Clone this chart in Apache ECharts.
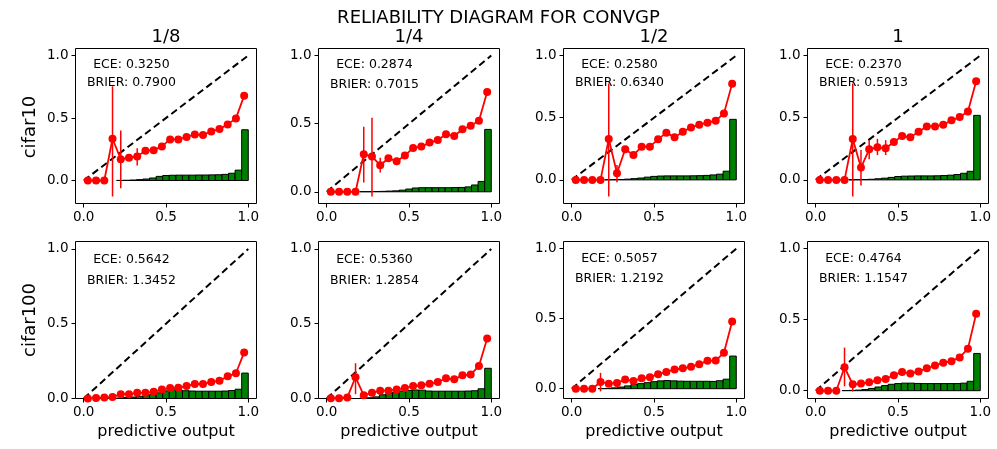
<!DOCTYPE html>
<html><head><meta charset="utf-8">
<script src="https://cdn.jsdelivr.net/npm/echarts@6/dist/echarts.min.js"></script>
<style>html,body{margin:0;padding:0;background:#fff}#c{width:997px;height:449px}</style>
</head><body><div id="c"></div>
<script>
// ---------- DATA ----------
const columns = ['1/8', '1/4', '1/2', '1'];
const rows = ['cifar10', 'cifar100'];
const centers = [0.025,0.075,0.125,0.175,0.225,0.275,0.325,0.375,0.425,0.475,0.525,0.575,0.625,0.675,0.725,0.775,0.825,0.875,0.925,0.975];
const histEdges = [0,0.04,0.08,0.12,0.16,0.2,0.24,0.28,0.32,0.36,0.4,0.44,0.48,0.52,0.56,0.6,0.64,0.68,0.72,0.76,0.8,0.84,0.88,0.92,0.96,1.0];

// cifar10
const acc_c10_8 = [0,0,0,0.334,0.171,0.182,0.193,0.238,0.243,0.273,0.329,0.329,0.348,0.369,0.364,0.393,0.412,0.449,0.497,0.679];
const err_c10_8 = [[0.175,-0.128,0.754],[0.225,-0.061,0.401],[0.325,0.120,0.259]];
const hist_c10_8 = [0,0,0,0,0,0.001,0.002,0.004,0.007,0.012,0.02,0.033,0.04,0.042,0.043,0.043,0.043,0.044,0.044,0.045,0.046,0.049,0.058,0.083,0.406];

const acc_c10_4 = [0,0,0,0,0.276,0.259,0.195,0.246,0.224,0.266,0.322,0.332,0.361,0.380,0.422,0.410,0.459,0.485,0.522,0.732];
const err_c10_4 = [[0.225,0.068,0.478],[0.275,-0.034,0.544],[0.325,0.141,0.249]];
const hist_c10_4 = [0,0,0,0,0,0.001,0.001,0.002,0.003,0.005,0.007,0.012,0.02,0.028,0.03,0.03,0.03,0.03,0.03,0.031,0.032,0.036,0.05,0.076,0.458];

const acc_c10_2 = [0,0,0,0,0.329,0.053,0.246,0.200,0.267,0.267,0.326,0.380,0.342,0.388,0.422,0.444,0.460,0.476,0.535,0.773];
const err_c10_2 = [[0.225,-0.134,0.775],[0.275,-0.02,0.12]];
const hist_c10_2 = [0,0,0,0,0,0.001,0.002,0.003,0.006,0.01,0.015,0.022,0.028,0.031,0.032,0.032,0.032,0.032,0.033,0.034,0.036,0.04,0.046,0.07,0.487];

const acc_c10_1 = [0,0,0,0,0.329,0.099,0.246,0.262,0.254,0.305,0.353,0.342,0.388,0.430,0.430,0.444,0.479,0.505,0.551,0.794];
const err_c10_1 = [[0.225,-0.134,0.775],[0.275,-0.045,0.24],[0.325,0.166,0.32],[0.375,0.2,0.33],[0.425,0.2,0.32]];
const hist_c10_1 = [0,0,0,0,0,0.001,0.002,0.003,0.005,0.009,0.014,0.02,0.027,0.03,0.031,0.032,0.032,0.032,0.033,0.035,0.038,0.043,0.053,0.069,0.519];

// cifar100
const acc_c100_8 = [0,0.004,0.006,0.01,0.029,0.029,0.038,0.038,0.045,0.061,0.070,0.072,0.083,0.097,0.097,0.110,0.119,0.148,0.169,0.308];
const err_c100_8 = [];
const hist_c100_8 = [0,0,0,0,0.001,0.003,0.006,0.01,0.015,0.02,0.027,0.038,0.051,0.058,0.056,0.052,0.05,0.049,0.049,0.049,0.049,0.05,0.053,0.062,0.17];

const acc_c100_4 = [0.002,0.002,0.007,0.142,0.022,0.038,0.052,0.052,0.061,0.070,0.083,0.088,0.099,0.110,0.135,0.128,0.155,0.160,0.218,0.402];
const err_c100_4 = [[0.175,0.029,0.236]];
const hist_c100_4 = [0,0,0,0,0,0.002,0.005,0.011,0.025,0.034,0.043,0.05,0.054,0.057,0.056,0.05,0.049,0.049,0.049,0.049,0.049,0.05,0.052,0.065,0.202];

const acc_c100_2 = [0,0,0,0.048,0.036,0.041,0.065,0.055,0.074,0.082,0.103,0.120,0.137,0.146,0.156,0.175,0.199,0.201,0.257,0.480];
const err_c100_2 = [[0.175,-0.019,0.113]];
const hist_c100_2 = [0,0,0,0,0.001,0.002,0.006,0.012,0.02,0.03,0.036,0.043,0.05,0.056,0.058,0.056,0.054,0.053,0.053,0.053,0.053,0.052,0.057,0.068,0.233];

const acc_c100_1 = [0,0,0,0.165,0.045,0.050,0.059,0.073,0.083,0.109,0.132,0.121,0.135,0.158,0.177,0.196,0.208,0.234,0.296,0.541];
const err_c100_1 = [[0.175,0.031,0.303],[0.225,-0.005,0.059]];
const hist_c100_1 = [0,0,0,0,0.001,0.002,0.004,0.008,0.016,0.026,0.036,0.045,0.05,0.053,0.053,0.051,0.05,0.05,0.05,0.05,0.05,0.05,0.053,0.066,0.262];

const eceVals = ['0.3250','0.2874','0.2580','0.2370','0.5642','0.5360','0.5057','0.4764'];
const brierVals = ['0.7900','0.7015','0.6340','0.5913','1.3452','1.2854','1.2192','1.1547'];
const xTicks = [0, 0.5, 1.0];
const yTicks = [0, 0.5, 1.0];

// ---------- LAYOUT ----------
const panelData = [
  [acc_c10_8, err_c10_8, hist_c10_8], [acc_c10_4, err_c10_4, hist_c10_4],
  [acc_c10_2, err_c10_2, hist_c10_2], [acc_c10_1, err_c10_1, hist_c10_1],
  [acc_c100_8, err_c100_8, hist_c100_8], [acc_c100_4, err_c100_4, hist_c100_4],
  [acc_c100_2, err_c100_2, hist_c100_2], [acc_c100_1, err_c100_1, hist_c100_1]
];
const yLims = [[-0.184,1.056],[-0.086,1.052],[-0.19,1.057],[-0.19,1.057],[0,1.05],[0,1.05],[-0.07,1.051],[-0.055,1.05]];
const gridLefts = [75.5, 318.5, 563.5, 807.5];
const gridW = 181;
const rowTops = [48.5, 241.5];
const rowHs = [155, 157];
const FONT = 'DejaVu Sans';

const grids = [], xAxes = [], yAxes = [], series = [];
for (let i = 0; i < 8; i++) {
  const r = Math.floor(i / 4), c = i % 4;
  grids.push({left: gridLefts[c], top: rowTops[r], width: gridW, height: rowHs[r],
    show: true, borderColor: '#000', borderWidth: 1, backgroundColor: 'transparent', containLabel: false});
  xAxes.push({type: 'value', gridIndex: i, min: -0.05, max: 1.05, position: 'bottom',
    axisLine: {show: false, onZero: false}, splitLine: {show: false},
    axisTick: {show: true, inside: false, length: 4, customValues: xTicks, lineStyle: {color: '#000', width: 1}},
    axisLabel: {show: true, customValues: xTicks, margin: 7, color: '#000', fontSize: 13.5, fontFamily: FONT,
      formatter: v => v.toFixed(1)}});
  yAxes.push({type: 'value', gridIndex: i, min: yLims[i][0], max: yLims[i][1], position: 'left',
    axisLine: {show: false, onZero: false}, splitLine: {show: false},
    axisTick: {show: true, inside: false, length: 4, customValues: yTicks, lineStyle: {color: '#000', width: 1}},
    axisLabel: {show: true, customValues: yTicks, margin: 7, color: '#000', fontSize: 13.5, fontFamily: FONT,
      formatter: v => v.toFixed(1)}});

  const [acc, err, hist] = panelData[i];
  const histItems = [];
  hist.forEach((h, k) => { if (h > 0) histItems.push([histEdges[k], histEdges[k + 1], h]); });
  series.push({type: 'custom', xAxisIndex: i, yAxisIndex: i, z: 1, silent: true,
    encode: {x: [0, 1], y: 2},
    renderItem: (params, api) => {
      const p0 = api.coord([api.value(0), 0]);
      const p1 = api.coord([api.value(1), api.value(2)]);
      return {type: 'rect', shape: {x: p0[0], y: p1[1], width: p1[0] - p0[0], height: p0[1] - p1[1]},
        style: {fill: '#008000', stroke: '#000', lineWidth: 1}};
    },
    data: histItems});
  series.push({type: 'line', xAxisIndex: i, yAxisIndex: i, z: 2, silent: true, symbol: 'none',
    lineStyle: {color: '#000', width: 2, type: [7, 4]}, data: [[0, 0], [1, 1]]});
  series.push({type: 'custom', xAxisIndex: i, yAxisIndex: i, z: 3, silent: true,
    encode: {x: 0, y: [1, 2]},
    renderItem: (params, api) => {
      const p0 = api.coord([api.value(0), api.value(1)]);
      const p1 = api.coord([api.value(0), api.value(2)]);
      return {type: 'line', shape: {x1: p0[0], y1: p0[1], x2: p1[0], y2: p1[1]},
        style: {stroke: '#ff0000', lineWidth: 1.5}};
    },
    data: err});
  series.push({type: 'line', xAxisIndex: i, yAxisIndex: i, z: 4, silent: true,
    symbol: 'circle', symbolSize: 8, showAllSymbol: true,
    itemStyle: {color: '#ff0000'}, lineStyle: {color: '#ff0000', width: 1.8},
    data: centers.map((x, k) => [x, acc[k]])});
}

const chart = echarts.init(document.getElementById('c'), null, {renderer: 'canvas'});
chart.setOption({
  animation: false,
  backgroundColor: '#fff',
  title: {text: 'RELIABILITY DIAGRAM FOR CONVGP', left: 'center', top: 4,
    textStyle: {fontSize: 18, fontWeight: 'normal', color: '#000', fontFamily: FONT}},
  grid: grids, xAxis: xAxes, yAxis: yAxes, series: series
});

const g = [];
const txt = (x, y, s, size, extra) => Object.assign({type: 'text', x: x, y: y,
  style: {text: s, fontSize: size, fontFamily: FONT, fill: '#000', textAlign: 'center', textVerticalAlign: 'middle'}}, extra || {});
columns.forEach((s, c) => g.push(txt(gridLefts[c] + gridW / 2, 37, s, 18)));
g.push(txt(30, 127, rows[0], 18, {rotation: Math.PI / 2}));
g.push(txt(30, 320, rows[1], 18, {rotation: Math.PI / 2}));
for (let c = 0; c < 4; c++) g.push(txt(gridLefts[c] + gridW / 2, 432, 'predictive output', 16));
for (let i = 0; i < 8; i++) {
  const pe = chart.convertToPixel({gridIndex: i}, [0.29, 0.93]);
  const pb = chart.convertToPixel({gridIndex: i}, [0.29, 0.785]);
  g.push(txt(pe[0], pe[1], 'ECE: ' + eceVals[i], 12.5));
  g.push(txt(pb[0], pb[1], 'BRIER: ' + brierVals[i], 12.5));
}
chart.setOption({graphic: g});
</script></body></html>
